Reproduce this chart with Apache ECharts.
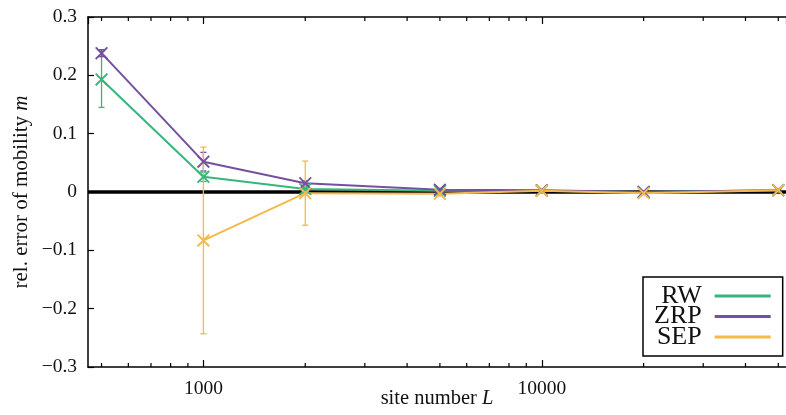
<!DOCTYPE html>
<html>
<head>
<meta charset="utf-8">
<script src="https://cdn.jsdelivr.net/npm/echarts@6/dist/echarts.min.js"></script>
<style>html,body{margin:0;padding:0;background:#fff}#c{width:786px;height:415px}</style>
</head>
<body>
<div id="c"></div>
<script>
// ---- data ----
var sizes  = [500, 1000, 2000, 5000, 10000, 20000, 50000];
var rw     = [0.193, 0.026, 0.005, 0.002, 0.002, 0.000, 0.003];
var rwErr  = [0.048, 0.008, 0.004, 0.002, 0.002, 0.002, 0.002];
var zrp    = [0.238, 0.052, 0.015, 0.004, 0.003, 0.000, 0.003];
var zrpErr = [0.006, 0.016, 0.004, 0.002, 0.002, 0.002, 0.002];
var sep    = [null, -0.083, -0.002, -0.003, 0.002, -0.002, 0.003];
var sepErr = [null, 0.160, 0.055, 0.004, 0.004, 0.003, 0.003];
var seriesNames = ['RW', 'ZRP', 'SEP'];
var colors = ['#37b67c', '#74509f', '#f4b94a'];
var xMin = 456, xMax = 52700;
var yMin = -0.3, yMax = 0.3, yStep = 0.1;

var FONT = 'Liberation Serif';
var XSYM = 'path://M0,1L1,0L5,4L9,0L10,1L6,5L10,9L9,10L5,6L1,10L0,9L4,5Z';

function pairs(vals) {
  var out = [];
  for (var i = 0; i < sizes.length; i++) if (vals[i] !== null) out.push([sizes[i], vals[i]]);
  return out;
}
function errData(vals, errs) {
  var out = [];
  for (var i = 0; i < sizes.length; i++) if (vals[i] !== null) out.push([sizes[i], vals[i] - errs[i], vals[i] + errs[i]]);
  return out;
}
function errSeries(name, vals, errs, color) {
  return {
    type: 'custom', name: name, xAxisIndex: 0, yAxisIndex: 0, silent: true, z: 3,
    data: errData(vals, errs),
    encode: {x: 0, y: [1, 2]},
    renderItem: function (params, api) {
      var lo = api.coord([api.value(0), api.value(1)]);
      var hi = api.coord([api.value(0), api.value(2)]);
      var w = 3;
      var st = {stroke: color, lineWidth: 1.3};
      return {type: 'group', children: [
        {type: 'line', shape: {x1: lo[0], y1: lo[1], x2: hi[0], y2: hi[1]}, style: st},
        {type: 'line', shape: {x1: lo[0] - w, y1: lo[1], x2: lo[0] + w, y2: lo[1]}, style: st},
        {type: 'line', shape: {x1: hi[0] - w, y1: hi[1], x2: hi[0] + w, y2: hi[1]}, style: st}
      ]};
    }
  };
}
function lineSeries(name, vals, color) {
  return {
    type: 'line', name: name, data: pairs(vals), xAxisIndex: 0, yAxisIndex: 0,
    symbol: XSYM, symbolSize: 13, showAllSymbol: true, z: 4,
    lineStyle: {color: color, width: 2}, itemStyle: {color: color},
    emphasis: {disabled: true}
  };
}

// minor tick positions (log axis)
var minorTicks = [];
[100, 1000, 10000].forEach(function (d) {
  for (var k = 2; k <= 9; k++) {
    var v = d * k;
    if (v > xMin && v < xMax) minorTicks.push([v]);
  }
});

var chart = echarts.init(document.getElementById('c'), null, {renderer: 'canvas'});
var series = [
  {
    type: 'custom', silent: true, z: 1, xAxisIndex: 0, yAxisIndex: 0,
    data: minorTicks, encode: {x: 0},
    renderItem: function (params, api) {
      var b = api.coord([api.value(0), yMin]);
      var t = api.coord([api.value(0), yMax]);
      var st = {stroke: '#000', lineWidth: 1.2};
      return {type: 'group', children: [
        {type: 'line', shape: {x1: b[0], y1: b[1], x2: b[0], y2: b[1] - 4}, style: st},
        {type: 'line', shape: {x1: t[0], y1: t[1], x2: t[0], y2: t[1] + 4}, style: st}
      ]};
    }
  },
  {
    type: 'line', silent: true, data: [[xMin, 0], [xMax, 0]], symbol: 'none', z: 2,
    lineStyle: {color: '#000', width: 3.5}, emphasis: {disabled: true}
  }
];
series.push(errSeries('RW', rw, rwErr, colors[0]));
series.push(errSeries('ZRP', zrp, zrpErr, colors[1]));
series.push(errSeries('SEP', sep, sepErr, colors[2]));
series.push(lineSeries('RW', rw, colors[0]));
series.push(lineSeries('ZRP', zrp, colors[1]));
series.push(lineSeries('SEP', sep, colors[2]));

chart.setOption({
  animation: false,
  backgroundColor: '#fff',
  grid: {left: 88, right: 0, top: 17, bottom: 48, containLabel: false, outerBoundsMode: 'none'},
  legend: {
    data: seriesNames.map(function (n, i) { return {name: n, icon: 'rect', itemStyle: {color: colors[i]}}; }),
    orient: 'vertical', left: 643, top: 277, align: 'right',
    itemWidth: 56, itemHeight: 3, itemGap: -5.5,
    padding: [6, 12, 6, 11],
    borderColor: '#000', borderWidth: 1.5,
    textStyle: {fontFamily: FONT, fontSize: 26, color: '#111', align: 'right', padding: [0, 8, 0, 0]},
    selectedMode: false
  },
  xAxis: [{
    type: 'log', logBase: 10, min: xMin, max: xMax, position: 'bottom',
    axisLine: {show: true, onZero: false, lineStyle: {color: '#000', width: 1.5}},
    axisTick: {show: true, inside: true, length: 7, lineStyle: {color: '#000', width: 1.2}},
    axisLabel: {showMinLabel: false, showMaxLabel: false, fontFamily: FONT, fontSize: 19.5, color: '#111', margin: 12,
      formatter: function (v) { return String(Math.round(v)); }},
    splitLine: {show: false},
    name: 'site number {i|L}', nameLocation: 'middle', nameGap: 21, nameMoveOverlap: false,
    nameTextStyle: {fontFamily: FONT, fontSize: 20.5, color: '#111',
      rich: {i: {fontFamily: FONT, fontStyle: 'italic', fontSize: 20.5, color: '#111'}}}
  }, {
    type: 'log', logBase: 10, min: xMin, max: xMax, position: 'top',
    axisLine: {show: true, onZero: false, lineStyle: {color: '#000', width: 1.5}},
    axisTick: {show: true, inside: true, length: 7, lineStyle: {color: '#000', width: 1.2}},
    axisLabel: {show: false}, splitLine: {show: false}
  }],
  yAxis: {
    type: 'value', min: yMin, max: yMax, interval: yStep,
    axisLine: {show: true, onZero: false, lineStyle: {color: '#000', width: 1.5}},
    axisTick: {show: true, inside: true, length: 6, lineStyle: {color: '#000', width: 1.2}},
    axisLabel: {fontFamily: FONT, fontSize: 19.5, color: '#111', margin: 11,
      formatter: function (v) {
        var r = Math.round(v * 10) / 10;
        if (r === 0) return '0';
        return r.toFixed(1).replace('-', '\u2212');
      }},
    splitLine: {show: false},
    name: 'rel. error of mobility {i|m}', nameLocation: 'middle', nameGap: 56, nameMoveOverlap: false,
    nameTextStyle: {fontFamily: FONT, fontSize: 21, color: '#111',
      rich: {i: {fontFamily: FONT, fontStyle: 'italic', fontSize: 21, color: '#111'}}}
  },
  series: series
});
</script>
</body>
</html>
